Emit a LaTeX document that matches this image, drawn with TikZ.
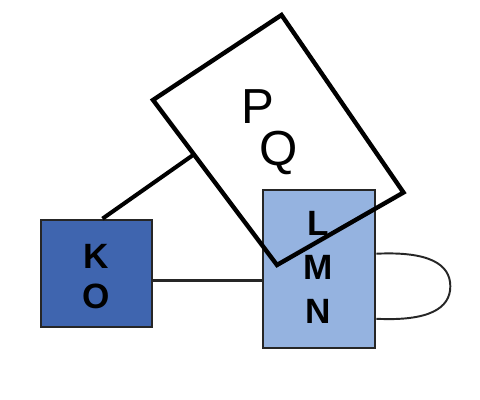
\documentclass[tikz,border=0pt]{standalone}
\usepackage{fontspec}
\setmainfont{Liberation Sans}
\usetikzlibrary{calc}
\definecolor{azuloscuro}{HTML}{3F65AF}
\definecolor{azulclaro}{HTML}{95B3E0}
\definecolor{bordeoscuro}{HTML}{262626}
\begin{document}
\begin{tikzpicture}[
		caja/.style={draw=bordeoscuro, line width=1.5pt, inner sep=0pt},
		negrita/.style={align=center, inner sep=0pt, font=\fontsize{20}{#1}\selectfont\bfseries},
		letra/.style={inner sep=0pt, font=\fontsize{28}{28}\selectfont}
	]
		\useasboundingbox (0,0) rectangle (9.6,8);
		
		% Caja K O
		\node[caja, fill=azuloscuro, minimum width=2.22cm, minimum height=2.14cm] (ko) at (1.93,2.53) {};
		\node[negrita=23] (kotexto) at ($(ko.center)+(0,-0.06)$) {K\\O};
		
		% Caja L M N
		\node[caja, fill=azulclaro, minimum width=2.24cm, minimum height=3.16cm] (lmn) at (6.38,2.62) {};
		\node[negrita=25] (lmntexto) at ($(lmn.center)+(-0.02,0.04)$) {L\\M\\N};
		
		% Rectangulo girado P Q
		\coordinate (pqa) at (3.06,6.00);
		\coordinate (pqb) at (5.63,7.70);
		\coordinate (pqc) at (8.07,4.15);
		\coordinate (pqd) at (5.54,2.70);
		\draw[line width=2.5pt, line join=miter] (pqa) -- (pqb) -- (pqc) -- (pqd) -- cycle;
		\node[letra] (p) at (5.15,5.86) {P};
		\node[letra] (q) at (5.58,4.95) {Q};
		
		% Linea de K al rectangulo
		\coordinate (kotop) at ($(ko.north)+(0.12,0)$);
		\coordinate (pqleft) at ($(pqa)!0.33!(pqd)$);
		\draw[line width=2.3pt] (kotop) -- (pqleft);
		
		% Linea entre las cajas
		\coordinate (koright) at ($(ko.east)+(0,-0.15)$);
		\draw[bordeoscuro, line width=1.7pt] (koright) -- (lmn.west |- koright);
		
		% Lazo a la derecha
		\coordinate (lazoa) at ($(lmn.north east)!0.405!(lmn.south east)$);
		\coordinate (lazob) at ($(lmn.north east)!0.81!(lmn.south east)$);
		\coordinate (lazoc) at ($(lazoa)!0.5!(lazob)+(1.48,0)$);
		\draw[bordeoscuro, line width=1.1pt] (lazoa) .. controls +(1.04,0.05) and +(0,0.45) .. (lazoc)
			.. controls +(0,-0.45) and +(1.04,-0.05) .. (lazob);
		
	\end{tikzpicture}
\end{document}
